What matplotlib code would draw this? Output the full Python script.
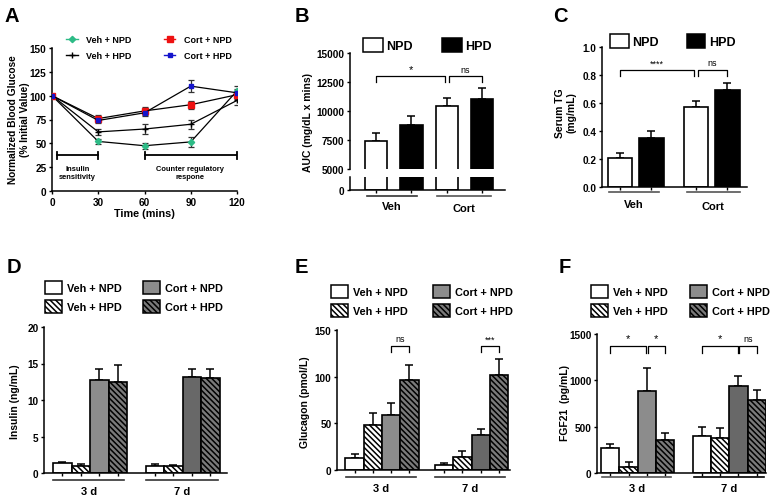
import numpy as np
import matplotlib
matplotlib.use('Agg')
import matplotlib.pyplot as plt
from matplotlib.lines import Line2D
from matplotlib.patches import Patch
from matplotlib.transforms import blended_transform_factory

plt.rcParams['font.family'] = ['Liberation Sans', 'DejaVu Sans']
plt.rcParams['font.weight'] = 'bold'
plt.rcParams['axes.labelweight'] = 'bold'
plt.rcParams['axes.linewidth'] = 1.1
plt.rcParams['hatch.linewidth'] = 1.1
plt.rcParams['xtick.major.width'] = 1.0
plt.rcParams['ytick.major.width'] = 1.0
plt.rcParams['xtick.major.size'] = 2.5
plt.rcParams['ytick.major.size'] = 2.5

# ---------------- data ----------------
# A: glucose tolerance (% initial)
time_min = [0, 30, 60, 90, 120]
glc_veh_npd = [100, 52, 47.5, 51.5, 105]
glc_veh_npd_err = [0, 3, 3, 5, 5]
glc_veh_hpd = [100, 62, 65, 70, 95]
glc_veh_hpd_err = [0, 3, 5, 5, 5]
glc_cort_npd = [100, 76, 84, 90.5, 101]
glc_cort_npd_err = [0, 4, 4, 4, 4]
glc_cort_hpd = [100, 74, 82, 110, 103]
glc_cort_hpd_err = [0, 3, 3, 6, 4]

# B: AUC, order Veh NPD, Veh HPD, Cort NPD, Cort HPD
auc = [7400, 8800, 10400, 11000]
auc_err = [700, 800, 700, 1000]

# C: serum TG
tg = [0.21, 0.35, 0.57, 0.69]
tg_err = [0.03, 0.05, 0.045, 0.05]

# D-F: order Veh+NPD, Veh+HPD, Cort+NPD, Cort+HPD
insulin_3d = [1.4, 1.0, 12.7, 12.5]
insulin_3d_err = [0.15, 0.2, 1.5, 2.3]
insulin_7d = [1.0, 1.0, 13.2, 13.0]
insulin_7d_err = [0.25, 0.1, 1.1, 1.2]

glucagon_3d = [13, 48, 59, 96]
glucagon_3d_err = [4, 13, 13, 17]
glucagon_7d = [5, 14, 37, 102]
glucagon_7d_err = [3, 6, 7, 17]

fgf21_3d = [270, 65, 890, 355]
fgf21_3d_err = [45, 50, 240, 75]
fgf21_7d = [395, 380, 940, 785]
fgf21_7d_err = [100, 110, 105, 110]

groups4 = ['Veh + NPD', 'Veh + HPD', 'Cort + NPD', 'Cort + HPD']

W, H = 774, 502
fig = plt.figure(figsize=(W / 100, H / 100), dpi=100)


def fy(py):
    return 1 - py / H


def axes_at(l, t, r, b):
    return fig.add_axes([l / W, 1 - b / H, (r - l) / W, (b - t) / H])


def style(ax):
    ax.spines['top'].set_visible(False)
    ax.spines['right'].set_visible(False)
    ax.tick_params(labelsize=7.2, pad=1.5)


def draw_bars(ax, pos, vals, errs, faces, hatches, width):
    for p, v, f, h in zip(pos, vals, faces, hatches):
        ax.bar(p, v, width, color=f, edgecolor='k', hatch=h, lw=1.2, zorder=2)
    ax.errorbar(pos, vals, yerr=[np.zeros(len(vals)), errs], fmt='none', ecolor='k',
                elinewidth=1.1, capsize=3, capthick=1.1, zorder=1)


def bracket(ax, x1, x2, y, h, text, size=6.5):
    ax.plot([x1, x1, x2, x2], [y - h, y, y, y - h], color='k', lw=0.9, clip_on=False)
    ax.text((x1 + x2) / 2, y + h * 0.4, text, ha='center', va='bottom', fontsize=size,
            fontweight='normal', clip_on=False)


def underline(ax, x1, x2, py, label, ply, color='#333333'):
    tr = blended_transform_factory(ax.transData, fig.transFigure)
    ax.plot([x1, x2], [fy(py)] * 2, transform=tr, clip_on=False, color=color, lw=1.2)
    ax.text((x1 + x2) / 2, fy(ply), label, transform=tr, ha='center', va='center', fontsize=8)


def ylab(px, py, text, size=7.5):
    fig.text(px / W, fy(py), text, rotation=90, ha='center', va='center',
             fontsize=size, fontweight='bold', multialignment='center')


def letter(px, py, text):
    fig.text(px / W, fy(py), text, ha='center', va='center', fontsize=14.5, fontweight='bold')


# ---------------- A ----------------
axA = axes_at(52, 49, 237, 192)
style(axA)
series = [
    (glc_veh_npd, glc_veh_npd_err, '#2dbb86', 'D', 3.2),
    (glc_veh_hpd, glc_veh_hpd_err, 'k', '+', 4),
    (glc_cort_npd, glc_cort_npd_err, '#ee1111', 's', 4),
    (glc_cort_hpd, glc_cort_hpd_err, '#1515cc', 's', 3.5),
]
handles = []
for (vals, errs, c, m, ms), name in zip(series, groups4):
    axA.errorbar(time_min, vals, yerr=errs, color='k', lw=0.9, ecolor='#333333',
                 elinewidth=0.9, capsize=2, capthick=0.9, marker=m, ms=ms, mfc=c, mec=c, zorder=3)
    handles.append(Line2D([], [], color=c, lw=1, marker=m, ms=ms, mfc=c, mec=c, label=name))
axA.set_xlim(0, 120)
axA.set_ylim(0, 150)
axA.set_xticks([0, 30, 60, 90, 120])
axA.set_yticks([0, 25, 50, 75, 100, 125, 150])
axA.set_xlabel('Time (mins)', fontsize=7.8, labelpad=1)
for x1, x2, txt, tx in [(3, 30, 'Insulin\nsensitivity', 16.5), (60, 120, 'Counter regulatory\nrespone', 89.5)]:
    axA.plot([x1, x2], [37.5, 37.5], color='k', lw=1.3)
    axA.plot([x1, x1], [34, 41], color='k', lw=1.3)
    axA.plot([x2, x2], [34, 41], color='k', lw=1.3, clip_on=False)
    axA.text(tx, 19.5, txt, ha='center', va='center', fontsize=5.4)
axA.legend(handles=handles, ncol=2, frameon=False,
           loc='upper left', bbox_to_anchor=(66 / W, fy(36)), bbox_transform=fig.transFigure,
           borderpad=0, borderaxespad=0, fontsize=6.5, handlelength=1.3, handletextpad=0.9,
           columnspacing=3.6, labelspacing=0.75)
ylab(19, 120, 'Normalized Blood Glucose\n(% Initial Value)', size=7.3)
letter(12, 16, 'A')

# ---------------- B (broken axis) ----------------
pos_b = [0, 1, 2, 3]
faces_b = ['white', 'black', 'white', 'black']
wb = 0.63
axB = axes_at(350, 54, 505, 170)
axB0 = axes_at(350, 178, 505, 191)
for ax in (axB, axB0):
    style(ax)
    draw_bars(ax, pos_b, auc, auc_err, faces_b, [None] * 4, wb)
    ax.set_xlim(-0.74, 3.65)
axB.set_ylim(5000, 15000)
axB.set_yticks([5000, 7500, 10000, 12500, 15000])
axB.spines['bottom'].set_visible(False)
axB.set_xticks([])
axB0.set_ylim(0, 1200)
axB0.set_yticks([0])
axB0.spines['top'].set_visible(False)
axB0.set_xticks(pos_b)
axB0.set_xticklabels([])
bracket(axB, 0, 1.95, 13000, 500, '*', size=8)
bracket(axB, 2.05, 3, 13000, 500, 'ns')
underline(axB0, pos_b[0] - wb / 2 + 0.05, pos_b[1] + wb / 2 - 0.15, 197, 'Veh', 207)
underline(axB0, pos_b[2] - wb / 2 + 0.05, pos_b[3] + wb / 2 - 0.05, 197, 'Cort', 209, color='#555555')
axB.legend(handles=[Patch(facecolor='white', edgecolor='k', lw=1.1, label='NPD'),
                    Patch(facecolor='black', edgecolor='k', lw=1.1, label='HPD')],
           ncol=2, frameon=False, loc='upper left', bbox_to_anchor=(363 / W, fy(39)),
           bbox_transform=fig.transFigure, borderpad=0, borderaxespad=0, fontsize=9,
           handlelength=1.6, handleheight=1.3, handletextpad=0.25, columnspacing=2.3)
ylab(308, 123, 'AUC (mg/dL x mins)')
letter(302, 17, 'B')

# ---------------- C ----------------
pos_c = [0, 1, 2.41, 3.41]
wc = 0.77
axC = axes_at(602, 48, 747, 188)
style(axC)
draw_bars(axC, pos_c, tg, tg_err, faces_b, [None] * 4, wc)
axC.set_xlim(-0.57, 4.03)
axC.set_ylim(0, 1.0)
axC.set_yticks([0, 0.2, 0.4, 0.6, 0.8, 1.0])
axC.set_yticklabels(['0.0', '0.2', '0.4', '0.6', '0.8', '1.0'])
axC.set_xticks(pos_c)
axC.set_xticklabels([])
bracket(axC, 0, 2.36, 0.838, 0.043, '****')
bracket(axC, 2.46, 3.41, 0.838, 0.043, 'ns')
underline(axC, pos_c[0] - wc / 2 + 0.05, pos_c[1] + wc / 2 - 0.15, 193, 'Veh', 205, color='#555555')
underline(axC, pos_c[2] - wc / 2 + 0.1, pos_c[3] + wc / 2 + 0.0, 193, 'Cort', 207, color='#555555')
axC.legend(handles=[Patch(facecolor='white', edgecolor='k', lw=1.1, label='NPD'),
                    Patch(facecolor='black', edgecolor='k', lw=1.1, label='HPD')],
           ncol=2, frameon=False, loc='upper left', bbox_to_anchor=(610 / W, fy(35)),
           bbox_transform=fig.transFigure, borderpad=0, borderaxespad=0, fontsize=9,
           handlelength=1.5, handleheight=1.35, handletextpad=0.3, columnspacing=2.2)
ylab(566, 113, 'Serum TG\n(mg/mL)')
letter(560, 17, 'C')

# ---------------- D, E, F ----------------
hatch4 = [None, '\\' * 6, None, '\\' * 6]
faces_3d = ['white', 'white', '#8c8c8c', '#7a7a7a']
faces_7d = ['white', 'white', '#686868', '#7a7a7a']


def four_group_panel(box, g2, xlim, v3, e3, v7, e7, ylim, yticks, lab, labpos, let, letpos, legpos, colsp):
    ax = axes_at(*box)
    style(ax)
    p3 = [0, 1, 2, 3]
    p7 = [g2 + i for i in range(4)]
    draw_bars(ax, p3, v3, e3, faces_3d, hatch4, 1.0)
    draw_bars(ax, p7, v7, e7, faces_7d, hatch4, 1.0)
    ax.set_xlim(*xlim)
    ax.set_ylim(*ylim)
    ax.set_yticks(yticks)
    ax.set_xticks(p3 + p7)
    ax.set_xticklabels([])
    ylab(labpos[0], labpos[1], lab)
    letter(letpos[0], letpos[1], let)
    hs = [Patch(facecolor=f, edgecolor='k', hatch=h, lw=1.1, label=n)
          for f, h, n in zip(faces_3d, hatch4, groups4)]
    ax.legend(handles=hs, ncol=2, frameon=False, loc='upper left',
              bbox_to_anchor=(legpos[0] / W, fy(legpos[1])), bbox_transform=fig.transFigure,
              borderpad=0, borderaxespad=0, fontsize=7.8, handlelength=1.6, handleheight=1.45,
              handletextpad=0.45, columnspacing=colsp, labelspacing=0.55)
    return ax, p3, p7


axD, p3, p7 = four_group_panel((44, 328, 227, 474), 5.0, (-1.0, 8.9), insulin_3d, insulin_3d_err,
                               insulin_7d, insulin_7d_err, (0, 20), [0, 5, 10, 15, 20],
                               'Insulin (ng/mL)', (15, 402), 'D', (14, 268), (45, 282), 1.9)
underline(axD, p3[0] - 0.5, p3[3] + 0.35, 481, '3 d', 492)
underline(axD, p7[0] - 0.5, p7[3] + 0.4, 481, '7 d', 492)

axE, p3, p7 = four_group_panel((337, 331, 510, 471), 4.9, (-0.96, 8.5), glucagon_3d, glucagon_3d_err,
                               glucagon_7d, glucagon_7d_err, (0, 150), [0, 50, 100, 150],
                               'Glucagon (pmol/L)', (305, 402), 'E', (301, 268), (331, 286), 2.3)
bracket(axE, p3[2], p3[3], 133, 7, 'ns')
bracket(axE, p7[2], p7[3], 133, 7, '***')
underline(axE, p3[0] - 0.45, p3[3] + 0.35, 478, '3 d', 489)
underline(axE, p7[0] - 0.5, p7[3] + 0.35, 478, '7 d', 489)

axF, p3, p7 = four_group_panel((597, 335, 766, 474), 5.06, (-0.74, 8.58), fgf21_3d, fgf21_3d_err,
                               fgf21_7d, fgf21_7d_err, (0, 1500), [0, 500, 1000, 1500],
                               'FGF21  (pg/mL)', (565, 403), 'F', (565, 268), (591, 286), 2.0)
bracket(axF, p3[0], p3[2] - 0.05, 1370, 70, '*', size=8)
bracket(axF, p3[2] + 0.05, p3[3], 1370, 70, '*', size=8)
bracket(axF, p7[0], p7[2] - 0.05, 1370, 70, '*', size=8)
bracket(axF, p7[2] + 0.05, p7[3], 1370, 70, 'ns')
underline(axF, p3[0] - 0.45, p3[3] + 0.35, 478, '3 d', 489, color='#555555')
underline(axF, p7[0] - 0.45, p7[3] + 0.4, 478, '7 d', 489, color='k')

fig.savefig('out.png', dpi=100)
